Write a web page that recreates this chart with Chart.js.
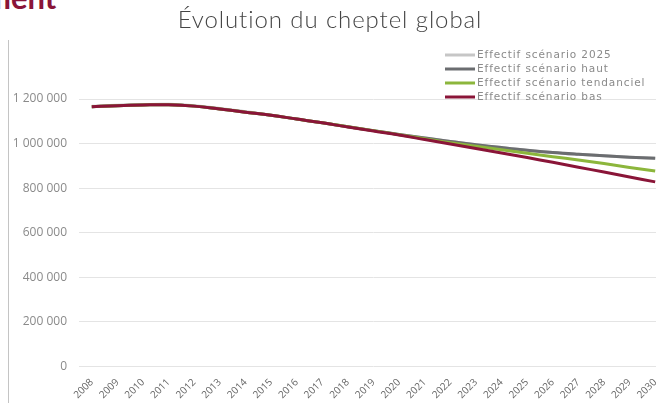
<!DOCTYPE html>
<html lang="fr">
<head>
<meta charset="utf-8">
<title>Évolution du cheptel global</title>
<script src="https://cdn.jsdelivr.net/npm/chart.js@4.4.1/dist/chart.umd.min.js"></script>
<style>
  html, body { margin: 0; padding: 0; background: #fff; overflow: hidden; width: 656px; height: 403px; }
  #head { position: absolute; left: -15px; top: -18px; font: 700 31px Lato, sans-serif; color: #8a1538; line-height: 1; white-space: nowrap; }
  #rule { position: absolute; left: 8px; top: 40px; width: 0; height: 363px; border-left: 1px solid #c4c4c4; }
  #title { position: absolute; left: 0; top: 5px; width: 660px; text-align: center; font: 300 24px Lato, sans-serif; letter-spacing: 0.9px; color: #444; line-height: 1.2; white-space: nowrap; }
  #wrap { position: absolute; left: 0; top: 0; width: 668px; height: 403px; }
</style>
</head>
<body>
<div id="head">ment</div>
<div id="rule"></div>
<div id="wrap"><canvas id="myChart" width="668" height="403"></canvas></div>
<div id="title">Évolution du cheptel global</div>
<script>
// Data
const years = ['2008', '2009', '2010', '2011', '2012', '2013', '2014', '2015', '2016', '2017', '2018',
  '2019', '2020', '2021', '2022', '2023', '2024', '2025', '2026', '2027', '2028', '2029', '2030'];

const scenario2025 = [1167000, 1172000, 1175000, 1176000, 1170000, 1157000, 1143000, 1127000, 1110000, 1093000, 1075000,
  1058000, 1041000, 1025000, 1009000, 995000, 982000, 970000, 960000, 952000, 945000, 939000, 934000];
const scenarioHaut = [1165000, 1170000, 1173000, 1174000, 1168000, 1155000, 1141000, 1127000, 1110000, 1093000, 1075000,
  1058000, 1041000, 1025000, 1009000, 995000, 982000, 970000, 960000, 952000, 945000, 939000, 934000];
const scenarioTendanciel = [1165000, 1170000, 1173000, 1174000, 1168000, 1155000, 1141000, 1127000, 1110000, 1093000, 1075000,
  1058000, 1040000, 1022000, 1004000, 988000, 972000, 956000, 941000, 926000, 910000, 893000, 877000];
const scenarioBas = [1165000, 1170000, 1173000, 1174000, 1168000, 1155000, 1141000, 1127000, 1110000, 1093000, 1074000,
  1056000, 1038000, 1018000, 998000, 978000, 958000, 937000, 916000, 894000, 872000, 850000, 828000];

const seriesLabels = ['Effectif scénario 2025', 'Effectif scénario haut', 'Effectif scénario tendanciel', 'Effectif scénario bas'];
const seriesColors = ['#c6c6c6', '#6b6d70', '#8cb63c', '#8a1538'];
const yTicks = [0, 200000, 400000, 600000, 800000, 1000000, 1200000];

const fmt = v => String(v).replace(/\B(?=(\d{3})+(?!\d))/g, ' ');

// line legend drawn above the plot, top right
const lineLegend = {
  id: 'lineLegend',
  afterDraw(chart) {
    const c = chart.ctx;
    const top = chart.chartArea.top - 44;
    c.save();
    c.font = '10.5px "DejaVu Sans", sans-serif';
    c.letterSpacing = '0.9px';
    c.textBaseline = 'middle';
    chart.data.datasets.forEach((ds, i) => {
      const y = top + i * 14;
      c.strokeStyle = ds.borderColor;
      c.lineWidth = 3;
      c.beginPath();
      c.moveTo(445, y);
      c.lineTo(475, y);
      c.stroke();
      c.fillStyle = '#8a8a8a';
      c.fillText(ds.label, 477, y + 0.5);
    });
    c.restore();
  }
};

const datasets = [scenario2025, scenarioHaut, scenarioTendanciel, scenarioBas].map((d, i) => ({
  label: seriesLabels[i],
  data: d,
  borderColor: seriesColors[i],
  backgroundColor: seriesColors[i],
  borderWidth: 3,
  pointRadius: 0,
  tension: 0.4,
  order: 4 - i
}));

const ctx = document.getElementById('myChart').getContext('2d');
const chart = new Chart(ctx, {
  type: 'line',
  data: { labels: years, datasets: datasets },
  options: {
    responsive: false,
    animation: false,
    layout: { padding: { left: 0, top: 99, right: 0, bottom: 0 } },
    plugins: {
      legend: { display: false },
      tooltip: { enabled: false },
      title: { display: false }
    },
    scales: {
      x: {
        offset: true,
        grid: { display: false },
        border: { display: false },
        ticks: {
          color: '#666',
          font: { family: '"Open Sans", sans-serif', size: 10 },
          maxRotation: 45,
          minRotation: 45,
          autoSkip: false,
          padding: 2
        }
      },
      y: {
        min: 0,
        max: 1200000,
        afterBuildTicks: axis => { axis.ticks = yTicks.map(v => ({ value: v })); },
        afterFit: axis => { axis.width = 79; },
        grid: { color: '#e4e4e4', lineWidth: 1, drawTicks: false },
        border: { display: false },
        ticks: {
          color: '#8a8a8a',
          padding: 12,
          font: { family: '"Open Sans", sans-serif', size: 12 },
          callback: v => fmt(v)
        }
      }
    }
  },
  plugins: [lineLegend]
});
</script>
</body>
</html>
